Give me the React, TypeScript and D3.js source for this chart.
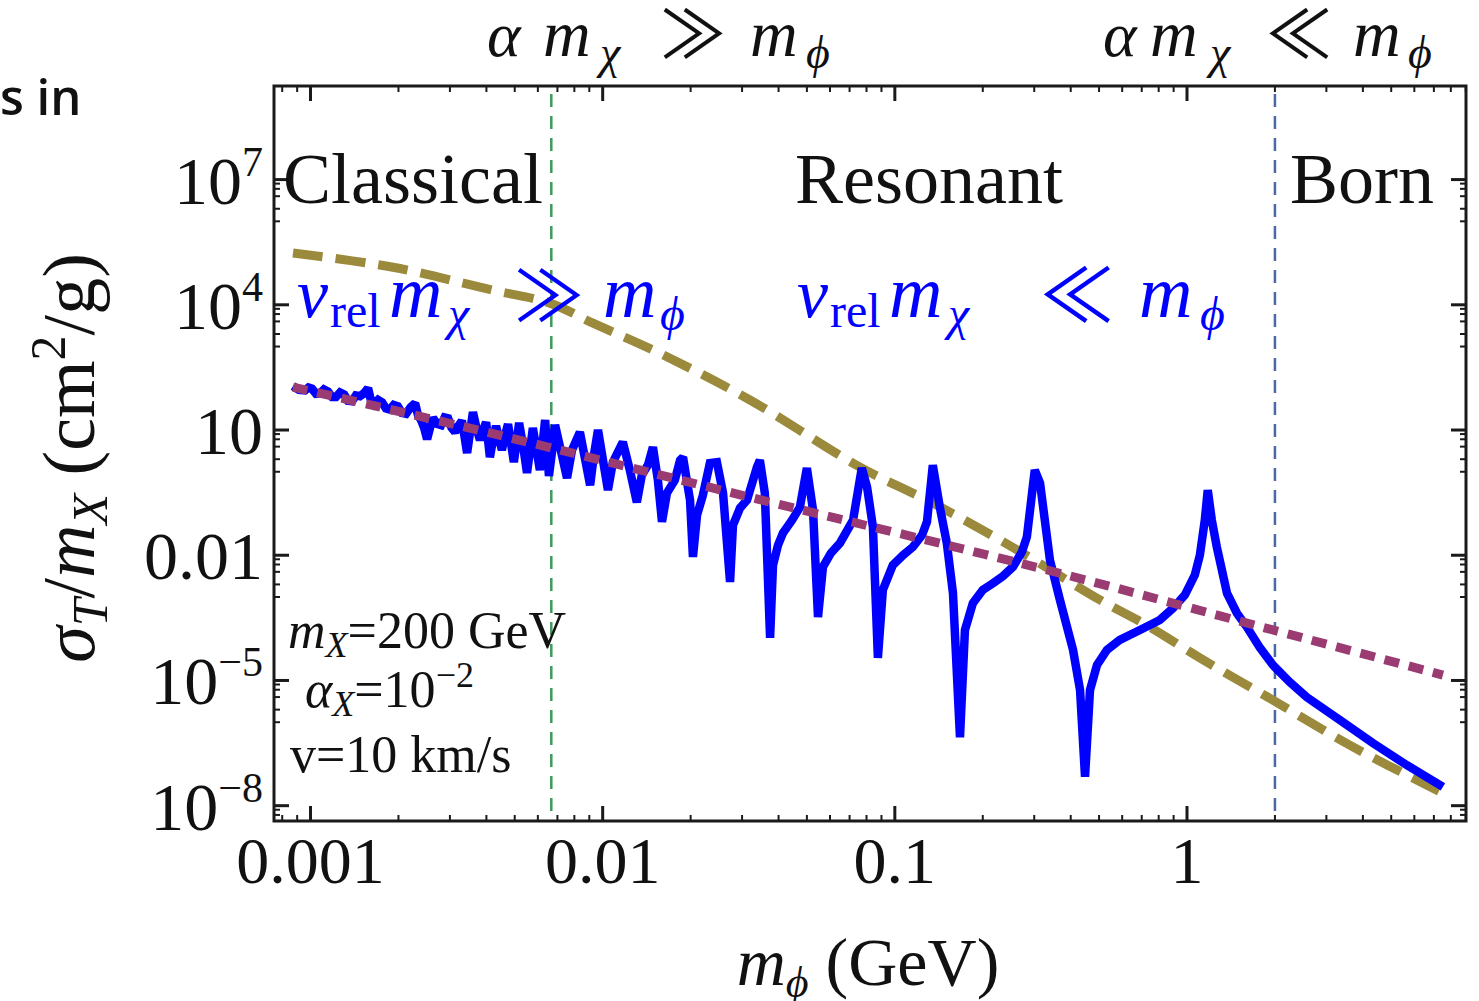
import React from "react";
import * as d3 from "d3";

// ---------- data (log10 values) ----------
// x: log10(m_phi / GeV), y: log10(sigma_T / m_X in cm^2/g)
const blueCurve: [number, number][] = [
  [-3.060, 2.05], [-3.040, 1.96], [-3.019, 1.95], [-3.007, 2.02], [-2.995, 1.99],
  [-2.981, 1.87], [-2.967, 1.88], [-2.954, 1.97], [-2.940, 1.92], [-2.926, 1.79],
  [-2.913, 1.79], [-2.899, 1.90], [-2.885, 1.85], [-2.872, 1.70], [-2.858, 1.69],
  [-2.845, 1.83], [-2.831, 1.81], [-2.817, 1.88], [-2.803, 2.00], [-2.793, 1.70],
  [-2.783, 1.62], [-2.769, 1.72], [-2.755, 1.66], [-2.742, 1.52], [-2.728, 1.49],
  [-2.715, 1.60], [-2.701, 1.57], [-2.687, 1.41], [-2.673, 1.39], [-2.657, 1.55],
  [-2.642, 1.64], [-2.632, 1.35], [-2.622, 1.24], [-2.611, 1.05], [-2.601, 0.78],
  [-2.591, 1.05], [-2.581, 1.29], [-2.567, 1.15], [-2.553, 1.12], [-2.541, 1.30],
  [-2.529, 1.28], [-2.517, 1.05], [-2.505, 0.95], [-2.494, 1.10], [-2.482, 1.22],
  [-2.473, 0.85], [-2.464, 0.45], [-2.454, 0.95], [-2.444, 1.43], [-2.432, 1.05],
  [-2.420, 0.76], [-2.410, 0.98], [-2.399, 1.19], [-2.393, 0.80], [-2.386, 0.35],
  [-2.376, 0.75], [-2.365, 1.10], [-2.355, 0.80], [-2.345, 0.52], [-2.335, 0.85],
  [-2.324, 1.14], [-2.314, 0.70], [-2.304, 0.23], [-2.295, 0.70], [-2.286, 1.17],
  [-2.272, 0.60], [-2.259, -0.03], [-2.249, 0.50], [-2.239, 1.05], [-2.227, 0.55],
  [-2.215, 0.04], [-2.206, 0.65], [-2.197, 1.24], [-2.190, 0.55], [-2.184, -0.10],
  [-2.173, 0.50], [-2.163, 1.12], [-2.143, 0.50], [-2.122, -0.15],
  [-2.105, 0.52], [-2.078, 0.95], [-2.043, -0.32], [-2.030, 0.40], [-2.016, 1.00],
  [-1.982, -0.44], [-1.965, 0.23], [-1.948, 0.47], [-1.931, 0.71], [-1.907, 0.04],
  [-1.883, -0.73], [-1.866, -0.08], [-1.845, 0.16], [-1.828, 0.59], [-1.811, -0.20],
  [-1.797, -1.20], [-1.780, -0.51], [-1.753, -0.20], [-1.735, 0.28], [-1.725, 0.35],
  [-1.701, -0.68], [-1.691, -2.04], [-1.677, -1.04], [-1.657, -0.56], [-1.633, 0.21],
  [-1.609, 0.23], [-1.588, -0.51], [-1.564, -2.64], [-1.554, -1.28], [-1.530, -0.87],
  [-1.506, -0.68], [-1.472, 0.11], [-1.462, 0.28], [-1.445, -0.51], [-1.427, -3.98],
  [-1.417, -2.24], [-1.400, -1.76], [-1.383, -1.47], [-1.352, -1.16], [-1.325, -0.85],
  [-1.301, 0.09], [-1.280, -0.92], [-1.263, -3.48], [-1.246, -2.28], [-1.219, -1.95],
  [-1.188, -1.71], [-1.143, -1.16], [-1.113, 0.09], [-1.095, -0.37], [-1.075, -1.32],
  [-1.058, -4.46], [-1.041, -2.83], [-1.007, -2.24], [-0.972, -2.00], [-0.938, -1.80],
  [-0.907, -1.52], [-0.890, -1.20], [-0.870, 0.16], [-0.846, -0.85], [-0.822, -1.71],
  [-0.801, -2.91], [-0.777, -6.36], [-0.760, -3.79], [-0.733, -3.15], [-0.699, -2.83],
  [-0.664, -2.67], [-0.630, -2.50], [-0.596, -2.28], [-0.565, -1.92], [-0.548, -1.56],
  [-0.521, 0.04], [-0.503, -0.27], [-0.469, -2.12], [-0.435, -3.07], [-0.390, -4.27],
  [-0.366, -5.23], [-0.349, -7.31], [-0.332, -5.23], [-0.308, -4.63], [-0.274, -4.27],
  [-0.230, -4.03], [-0.161, -3.79], [-0.093, -3.55], [-0.048, -3.27], [-0.007, -2.95],
  [0.027, -2.47], [0.044, -2.00], [0.061, -1.16], [0.071, -0.44], [0.085, -1.16],
  [0.102, -1.80], [0.137, -2.91], [0.171, -3.39], [0.205, -3.72], [0.250, -4.22],
  [0.294, -4.63], [0.352, -5.04], [0.410, -5.40], [0.523, -5.95], [0.636, -6.50],
  [0.753, -7.03], [0.876, -7.55],
];

const goldCurve: [number, number][] = [
  [-3.060, 5.24], [-2.718, 4.90], [-2.376, 4.35], [-2.181, 4.04], [-2.033, 3.56],
  [-1.814, 2.87], [-1.496, 1.72], [-1.119, 0.11], [-0.870, -0.75], [-0.582, -1.87],
  [-0.298, -3.07], [-0.127, -3.72], [0.044, -4.46], [0.294, -5.47], [0.557, -6.55],
  [0.876, -7.70],
];

const purpleCurve: [number, number][] = [
  [-3.060, 2.03], [-2.386, 0.93], [-1.496, -0.61], [-0.503, -2.31], [0.294, -3.79],
  [0.876, -4.87],
];

const regimeBoundaries = [0.00667, 2]; // GeV: v m_chi and alpha m_chi
const boundaryColors = ["#3f9a5c", "#4a6aa6"];

const xMajor = [0.001, 0.01, 0.1, 1];
const xMajorLabels = ["0.001", "0.01", "0.1", "1"];
const yMajorExp = [7, 4, 1, -2, -5, -8];
const yMajorBase = ["10", "10", "10", "0.01", "10", "10"];
const yMajorSup = ["7", "4", "", "", "\u22125", "\u22128"];
const yMinorFactors = [1, 2, 4, 6, 8];

const regionLabels = ["Classical", "Resonant", "Born"];

// ---------- layout ----------
const W = 1479;
const H = 1001;
const L = 274, R = 1466, T = 86, B = 821;

const x = d3.scaleLog().domain([Math.pow(10, -3.125), Math.pow(10, 0.955)]).range([L, R]);
const y = d3.scaleLog().domain([Math.pow(10, -8.367), Math.pow(10, 9.242)]).range([B, T]);

const toPts = (c: [number, number][]) => c.map(([a, b]) => [Math.pow(10, a), Math.pow(10, b)] as [number, number]);

const lineLin = d3.line<[number, number]>().x(d => x(d[0])).y(d => y(d[1]));
const lineSmooth = d3
  .line<[number, number]>()
  .x(d => x(d[0]))
  .y(d => y(d[1]))
  .curve(d3.curveCatmullRom.alpha(0.5));

const SERIF = "'Liberation Serif', 'Times New Roman', serif";
const MATHSYM = "'Noto Sans CJK JP', 'DejaVu Sans', sans-serif";

export default function App() {
  const xMinor: number[] = [];
  for (let k = -4; k <= 0; k++) {
    for (let d = 2; d <= 9; d++) {
      const v = d * Math.pow(10, k);
      if (x(v) >= L && x(v) <= R) xMinor.push(v);
    }
  }
  const yMinor: number[] = [];
  yMajorExp.forEach(e => {
    yMinorFactors.forEach(f => {
      const v = f * Math.pow(10, e - 1);
      if (y(v) >= T && y(v) <= B) yMinor.push(v);
    });
  });

  const majLen = 15, minLen = 6;

  return (
    <svg width={W} height={H} style={{ position: "absolute", left: 0, top: 0, background: "#fff" }}>
      <defs>
        <clipPath id="plotclip">
          <rect x={L} y={T} width={R - L} height={B - T} />
        </clipPath>
      </defs>
      <rect x={0} y={0} width={W} height={H} fill="#fff" />

      {/* stray slide text */}
      <text x={0} y={115} fontFamily="'Open Sans', sans-serif" fontWeight={600} fontSize={49} fill="#111">s in</text>

      {/* regime boundaries */}
      {regimeBoundaries.map((b, i) => (
        <line key={"b" + i} x1={x(b)} x2={x(b)} y1={T + 8} y2={B - 8}
          stroke={boundaryColors[i]} strokeWidth={2.5} strokeDasharray="13 9" />
      ))}

      <g clipPath="url(#plotclip)">
        <path d={lineSmooth(toPts(goldCurve)) || ""} fill="none" stroke="#9b8a3c"
          strokeWidth={9} strokeDasharray="30 13" />
        <path d={lineLin(toPts(blueCurve)) || ""} fill="none" stroke="#0000ff"
          strokeWidth={8.5} strokeLinejoin="miter" strokeMiterlimit={1.6} />
        <path d={lineSmooth(toPts(purpleCurve)) || ""} fill="none" stroke="#9a3c72"
          strokeWidth={9} strokeDasharray="15 10" />
      </g>

      {/* frame */}
      <rect x={L} y={T} width={R - L} height={B - T} fill="none" stroke="#1a1a1a" strokeWidth={3} />

      {/* x ticks */}
      {xMajor.map(v => (
        <g key={"xm" + v}>
          <line x1={x(v)} x2={x(v)} y1={B} y2={B - majLen} stroke="#1a1a1a" strokeWidth={3} />
          <line x1={x(v)} x2={x(v)} y1={T} y2={T + majLen} stroke="#1a1a1a" strokeWidth={3} />
        </g>
      ))}
      {xMinor.map(v => (
        <g key={"xn" + v}>
          <line x1={x(v)} x2={x(v)} y1={B} y2={B - minLen} stroke="#1a1a1a" strokeWidth={2} />
          <line x1={x(v)} x2={x(v)} y1={T} y2={T + minLen} stroke="#1a1a1a" strokeWidth={2} />
        </g>
      ))}
      {xMajor.map((v, i) => (
        <text key={"xl" + v} x={x(v)} y={883} textAnchor="middle" fontFamily={SERIF} fontSize={66} fill="#111">
          {xMajorLabels[i]}
        </text>
      ))}

      {/* y ticks */}
      {yMajorExp.map(e => {
        const v = Math.pow(10, e);
        return (
          <g key={"ym" + e}>
            <line x1={L} x2={L + majLen} y1={y(v)} y2={y(v)} stroke="#1a1a1a" strokeWidth={3} />
            <line x1={R} x2={R - majLen} y1={y(v)} y2={y(v)} stroke="#1a1a1a" strokeWidth={3} />
          </g>
        );
      })}
      {yMinor.map(v => (
        <g key={"yn" + v}>
          <line x1={L} x2={L + minLen} y1={y(v)} y2={y(v)} stroke="#1a1a1a" strokeWidth={2} />
          <line x1={R} x2={R - minLen} y1={y(v)} y2={y(v)} stroke="#1a1a1a" strokeWidth={2} />
        </g>
      ))}
      {yMajorExp.map((e, i) => (
        <text key={"yl" + e} x={263} y={y(Math.pow(10, e)) + 24} textAnchor="end"
          fontFamily={SERIF} fontSize={68} fill="#111">
          {yMajorBase[i]}
          {yMajorSup[i] ? <tspan fontSize={42} dy={-28}>{yMajorSup[i]}</tspan> : null}
        </text>
      ))}

      {/* region labels */}
      <text x={283} y={203} fontFamily={SERIF} fontSize={72} fill="#111">{regionLabels[0]}</text>
      <text x={795} y={203} fontFamily={SERIF} fontSize={72} fill="#111">{regionLabels[1]}</text>
      <text x={1290} y={203} fontFamily={SERIF} fontSize={72} fill="#111">{regionLabels[2]}</text>

      {/* top labels */}
      <g fontFamily={SERIF} fill="#111">
        <text x={487} y={56} fontSize={64} fontStyle="italic">α</text>
        <text x={543} y={56} fontSize={66} fontStyle="italic">m</text>
        <text x={600} y={68} fontSize={46} fontStyle="italic">χ</text>
        <text x={660} y={58} fontSize={66} fontFamily={MATHSYM}>≫</text>
        <text x={750} y={56} fontSize={66} fontStyle="italic">m</text>
        <text x={806} y={68} fontSize={46} fontStyle="italic">ϕ</text>

        <text x={1103} y={56} fontSize={64} fontStyle="italic">α</text>
        <text x={1150} y={56} fontSize={66} fontStyle="italic">m</text>
        <text x={1210} y={68} fontSize={46} fontStyle="italic">χ</text>
        <text x={1266} y={58} fontSize={66} fontFamily={MATHSYM}>≪</text>
        <text x={1353} y={56} fontSize={66} fontStyle="italic">m</text>
        <text x={1408} y={68} fontSize={46} fontStyle="italic">ϕ</text>
      </g>

      {/* blue regime labels */}
      <g fontFamily={SERIF} fill="#0000ff">
        <text x={297} y={317} fontSize={70} fontStyle="italic">v</text>
        <text x={330} y={327} fontSize={48}>rel</text>
        <text x={389} y={317} fontSize={74} fontStyle="italic">m</text>
        <text x={448} y={330} fontSize={48} fontStyle="italic">χ</text>
        <text x={514} y={322} fontSize={70} fontFamily={MATHSYM}>≫</text>
        <text x={603} y={317} fontSize={74} fontStyle="italic">m</text>
        <text x={660} y={330} fontSize={48} fontStyle="italic">ϕ</text>

        <text x={797} y={317} fontSize={70} fontStyle="italic">v</text>
        <text x={830} y={327} fontSize={48}>rel</text>
        <text x={889} y={317} fontSize={74} fontStyle="italic">m</text>
        <text x={948} y={330} fontSize={48} fontStyle="italic">χ</text>
        <text x={1040} y={322} fontSize={74} fontFamily={MATHSYM}>≪</text>
        <text x={1139} y={317} fontSize={74} fontStyle="italic">m</text>
        <text x={1200} y={330} fontSize={48} fontStyle="italic">ϕ</text>
      </g>

      {/* parameter annotation */}
      <g fontFamily={SERIF} fill="#111" fontSize={52}>
        <text x={288} y={648}>
          <tspan fontStyle="italic">m</tspan>
          <tspan fontStyle="italic" fontSize={36} dy={9}>X</tspan>
          <tspan dy={-9}>=200 GeV</tspan>
        </text>
        <text x={305} y={707}>
          <tspan fontStyle="italic">α</tspan>
          <tspan fontStyle="italic" fontSize={36} dy={9}>X</tspan>
          <tspan dy={-9}>=10</tspan>
          <tspan fontSize={36} dy={-20}>−2</tspan>
        </text>
        <text x={290} y={772}>v=10 km/s</text>
      </g>

      {/* axis titles */}
      <text x={868} y={985} textAnchor="middle" fontFamily={SERIF} fontSize={68} fill="#111">
        <tspan fontStyle="italic">m</tspan>
        <tspan fontStyle="italic" fontSize={44} dy={12}>ϕ</tspan>
        <tspan dy={-12}> (GeV)</tspan>
      </text>
      <text transform="translate(94,458) rotate(-90)" textAnchor="middle" fontFamily={SERIF} fontSize={74} fill="#111">
        <tspan fontStyle="italic">σ</tspan>
        <tspan fontStyle="italic" fontSize={50} dy={13}>T</tspan>
        <tspan dy={-13}>/</tspan>
        <tspan fontStyle="italic">m</tspan>
        <tspan fontStyle="italic" fontSize={50} dy={13}>X</tspan>
        <tspan dy={-13}> (cm</tspan>
        <tspan fontSize={50} dy={-29}>2</tspan>
        <tspan dy={29}>/g)</tspan>
      </text>
    </svg>
  );
}
